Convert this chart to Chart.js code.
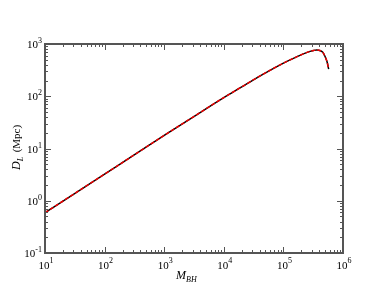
<!DOCTYPE html>
<html>
<head>
<meta charset="utf-8">
<script src="https://cdn.jsdelivr.net/npm/chart.js@4"></script>
<style>
  html, body { margin: 0; padding: 0; background: #fff; }
  #wrap { width: 387px; height: 299px; }
</style>
</head>
<body>
<div id="wrap"><canvas id="chart" width="387" height="299"></canvas></div>
<script>
// black hole mass vs luminosity distance
const massBH = [10, 30, 100, 300, 1000, 3000, 10000, 20000, 30000, 50000, 100000,
    160000, 250000, 320000, 360000, 420000, 460000, 500000, 540000, 575000];
const distL = [0.59, 1.33, 3.24, 7.3, 17.8, 39.6, 94.4, 151, 200, 280, 431,
    556, 692, 750, 768, 741, 692, 575, 457, 331];
const xDecades = [1, 2, 3, 4, 5, 6];
const yDecades = [-1, 0, 1, 2, 3];

const points = massBH.map((m, i) => ({ x: m, y: distL[i] }));
const serif = '"Liberation Serif", "DejaVu Serif", serif';

// inward ticks, frame, tick labels with exponents, axis titles
const frameAndLabels = {
    id: 'frameAndLabels',
    afterDraw(chart) {
        const ctx = chart.ctx;
        const a = chart.chartArea;
        const xs = chart.scales.x, ys = chart.scales.y;
        ctx.save();

        ctx.strokeStyle = '#555';
        ctx.lineWidth = 1;
        ctx.beginPath();
        xDecades.forEach((d, i) => {
            for (let k = 1; k <= 9; k++) {
                if (k > 1 && i === xDecades.length - 1) break;
                const px = Math.round(xs.getPixelForValue(k * Math.pow(10, d))) + 0.5;
                const len = k === 1 ? 6 : 3;
                ctx.moveTo(px, a.bottom); ctx.lineTo(px, a.bottom - len);
                ctx.moveTo(px, a.top); ctx.lineTo(px, a.top + len);
            }
        });
        yDecades.forEach((d, i) => {
            for (let k = 1; k <= 9; k++) {
                if (k > 1 && i === yDecades.length - 1) break;
                const py = Math.round(ys.getPixelForValue(k * Math.pow(10, d))) + 0.5;
                const len = k === 1 ? 6 : 3;
                ctx.moveTo(a.left, py); ctx.lineTo(a.left + len, py);
                ctx.moveTo(a.right, py); ctx.lineTo(a.right - len, py);
            }
        });
        ctx.stroke();

        ctx.strokeStyle = '#555';
        ctx.lineWidth = 2;
        ctx.strokeRect(a.left, a.top, a.right - a.left, a.bottom - a.top);

        ctx.fillStyle = '#000';
        ctx.textBaseline = 'alphabetic';
        const big = '11px ' + serif, small = '8px ' + serif;

        // x tick labels
        xDecades.forEach(d => {
            const px = xs.getPixelForValue(Math.pow(10, d));
            ctx.font = big;
            const w1 = ctx.measureText('10').width;
            ctx.font = small;
            const w2 = ctx.measureText(String(d)).width;
            const x0 = px - (w1 + w2) / 2 + 1;
            ctx.font = big;
            ctx.textAlign = 'left';
            ctx.fillText('10', x0, a.bottom + 16);
            ctx.font = small;
            ctx.fillText(String(d), x0 + w1, a.bottom + 10);
        });

        // y tick labels
        yDecades.forEach(d => {
            const py = ys.getPixelForValue(Math.pow(10, d));
            ctx.font = small;
            const w2 = ctx.measureText(String(d)).width;
            ctx.textAlign = 'right';
            ctx.fillText(String(d), a.left - 3, py - 1);
            ctx.font = big;
            ctx.fillText('10', a.left - 3 - w2, py + 4);
        });

        // x title: M_BH
        const cx = (a.left + a.right) / 2 - 10;
        ctx.textAlign = 'left';
        ctx.font = 'italic 12px ' + serif;
        const mw = ctx.measureText('M').width;
        ctx.fillText('M', cx - 8, a.bottom + 26);
        ctx.font = 'italic 8px ' + serif;
        ctx.fillText('BH', cx - 8 + mw, a.bottom + 29);

        // y title: D_L (Mpc)
        ctx.translate(20, 146);
        ctx.rotate(-Math.PI / 2);
        ctx.textAlign = 'left';
        ctx.font = 'italic 12px ' + serif;
        const dw = ctx.measureText('D').width;
        ctx.fillText('D', -24, 0);
        ctx.font = 'italic 8px ' + serif;
        ctx.fillText('L', -24 + dw, 3);
        ctx.font = '11px ' + serif;
        ctx.fillText('(Mpc)', -24 + dw + 9, 0);

        ctx.restore();
    }
};

new Chart(document.getElementById('chart').getContext('2d'), {
    type: 'line',
    data: {
        datasets: [
            {
                data: points,
                borderColor: '#ee0000',
                borderWidth: 1.5,
                borderDash: [4, 2],
                pointRadius: 0,
                cubicInterpolationMode: 'monotone',
                order: 0
            },
            {
                data: points,
                borderColor: '#000000',
                borderWidth: 1.5,
                pointRadius: 0,
                cubicInterpolationMode: 'monotone',
                order: 1
            }
        ]
    },
    options: {
        responsive: false,
        animation: false,
        layout: { padding: { left: 45, top: 44, right: 44, bottom: 46 } },
        plugins: { legend: { display: false }, tooltip: { enabled: false } },
        scales: {
            x: { type: 'logarithmic', min: 10, max: 1e6, display: false },
            y: { type: 'logarithmic', min: 0.1, max: 1000, display: false }
        }
    },
    plugins: [frameAndLabels]
});
</script>
</body>
</html>
